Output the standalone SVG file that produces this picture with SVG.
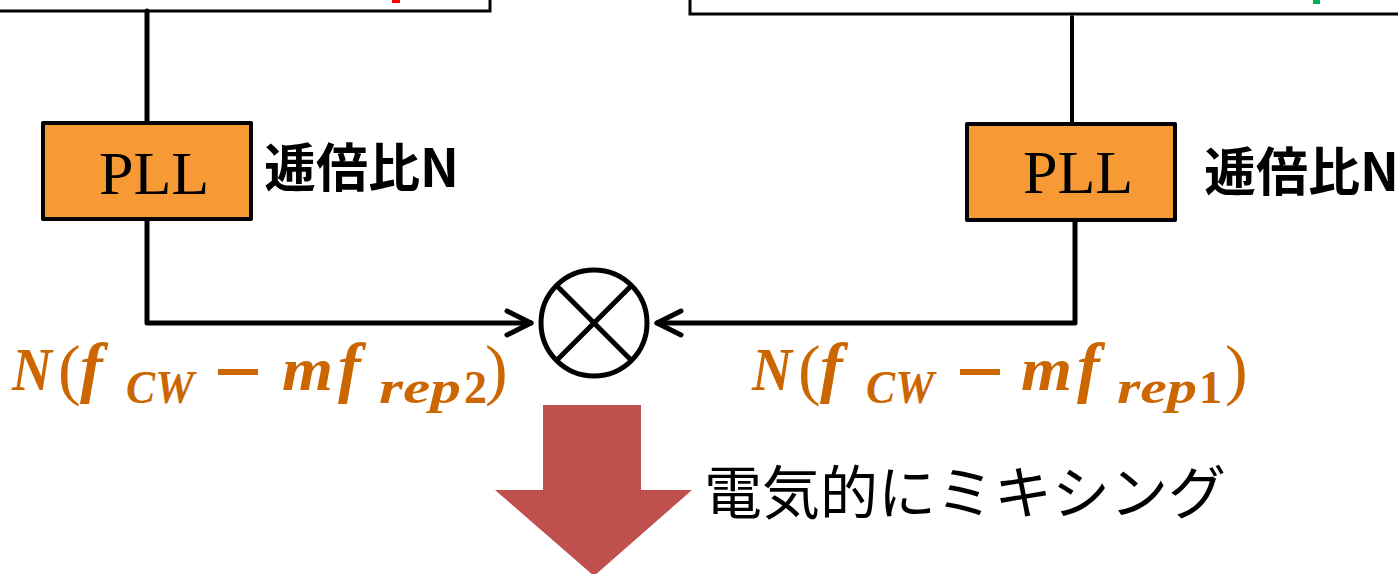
<svg xmlns="http://www.w3.org/2000/svg" width="1398" height="574" viewBox="0 0 1398 574">
  <defs>
    <style>
      .frame { fill: #ffffff; stroke: #000000; stroke-width: 3; }
      .pll { fill: #F79A36; stroke: #000000; stroke-width: 4; stroke-linejoin: round; }
      .pllText { font-family: "Liberation Serif", "Times New Roman", serif; font-size: 62px; fill: #000000; }
      .ratio { font-family: "Noto Sans CJK JP", "Noto Sans", sans-serif; font-weight: bold; font-size: 52px; fill: #000000; }
      .wire { fill: none; stroke: #000000; stroke-width: 5; stroke-linecap: round; stroke-linejoin: round; }
      .mix { fill: #ffffff; stroke: #000000; stroke-width: 5; }
      .mixx { stroke: #000000; stroke-width: 5; }
      .eq { font-family: "Liberation Serif", "Times New Roman", serif; fill: #CC6600; }
      .bi { font-weight: bold; font-style: italic; }
      .main { font-size: 62px; }
      .big { font-size: 68px; }
      .sub { font-size: 46px; }
      .par { font-weight: normal; font-style: normal; font-size: 68px; }
      .minus { stroke: #CC6600; stroke-width: 6; }
      .caption { font-family: "Noto Sans CJK JP", "Noto Sans", sans-serif; font-size: 58px; fill: #000000; }
    </style>
    <marker id="chev" viewBox="0 0 30 30" refX="27" refY="15" markerWidth="30" markerHeight="30" markerUnits="userSpaceOnUse" orient="auto">
      <path d="M3,3 L27,15 L3,27" fill="none" stroke="#000000" stroke-width="5" stroke-linecap="round" stroke-linejoin="round"/>
    </marker>
  </defs>

  <rect width="1398" height="574" fill="#ffffff"/>

  <g id="topLeftBox">
    <rect class="frame" x="-10" y="-60" width="500" height="71"/>
    <rect x="392" y="0" width="8" height="3" fill="#FF0000"/>
  </g>

  <g id="topRightBox">
    <rect class="frame" x="690" y="-60" width="720" height="74"/>
    <rect x="1313" y="0" width="7" height="4" fill="#00B050"/>
  </g>

  <g id="connectors">
    <line class="wire" x1="147" y1="11" x2="147" y2="121"/>
    <line class="wire" x1="1072" y1="17" x2="1072" y2="122" style="stroke-width:4"/>
    <path class="wire" d="M147,221 V323 H531" marker-end="url(#chev)"/>
    <path class="wire" d="M1075,221 V323 H657" marker-end="url(#chev)"/>
  </g>

  <g id="pllLeft">
    <rect class="pll" x="43" y="123" width="208" height="96"/>
    <text class="pllText" x="99" y="194">PLL</text>
    <text class="ratio" x="264" y="187">逓倍比N</text>
  </g>

  <g id="pllRight">
    <rect class="pll" x="967" y="124" width="208" height="96"/>
    <text class="pllText" x="1023" y="193">PLL</text>
    <text class="ratio" x="1204" y="191">逓倍比N</text>
  </g>

  <g id="mixer">
    <circle class="mix" cx="594" cy="323" r="53"/>
    <line class="mixx" x1="556.5" y1="285.5" x2="631.5" y2="360.5"/>
    <line class="mixx" x1="631.5" y1="285.5" x2="556.5" y2="360.5"/>
  </g>

  <g id="labelLeft">
    <text class="eq bi main" x="12" y="390" textLength="40" lengthAdjust="spacingAndGlyphs">N</text>
    <text class="eq par" x="58" y="392">(</text>
    <text class="eq bi big" x="80" y="390">f</text>
    <text class="eq bi sub" x="126" y="403" textLength="68" lengthAdjust="spacingAndGlyphs">CW</text>
    <line class="minus" x1="218" y1="372" x2="258" y2="372"/>
    <text class="eq bi main" x="282" y="390" textLength="51" lengthAdjust="spacingAndGlyphs">m</text>
    <text class="eq bi big" x="338" y="390">f</text>
    <text class="eq bi sub" x="379" y="403" textLength="82" lengthAdjust="spacingAndGlyphs">rep</text>
    <text class="eq sub" font-weight="bold" x="464" y="403">2</text>
    <text class="eq par" x="485" y="392">)</text>
  </g>

  <g id="labelRight">
    <text class="eq bi main" x="752" y="390" textLength="40" lengthAdjust="spacingAndGlyphs">N</text>
    <text class="eq par" x="798" y="392">(</text>
    <text class="eq bi big" x="820" y="390">f</text>
    <text class="eq bi sub" x="866" y="403" textLength="68" lengthAdjust="spacingAndGlyphs">CW</text>
    <line class="minus" x1="960" y1="372" x2="1000" y2="372"/>
    <text class="eq bi main" x="1021" y="390" textLength="51" lengthAdjust="spacingAndGlyphs">m</text>
    <text class="eq bi big" x="1077" y="390">f</text>
    <text class="eq bi sub" x="1117" y="403" textLength="80" lengthAdjust="spacingAndGlyphs">rep</text>
    <text class="eq sub" font-weight="bold" x="1199" y="403">1</text>
    <text class="eq par" x="1225" y="392">)</text>
  </g>

  <g id="mixArrow">
    <polygon points="543,405 641,405 641,490 692,490 594,576 495,490 543,490" fill="#C0504D"/>
    <text class="caption" x="704" y="514">電気的にミキシング</text>
  </g>
</svg>
